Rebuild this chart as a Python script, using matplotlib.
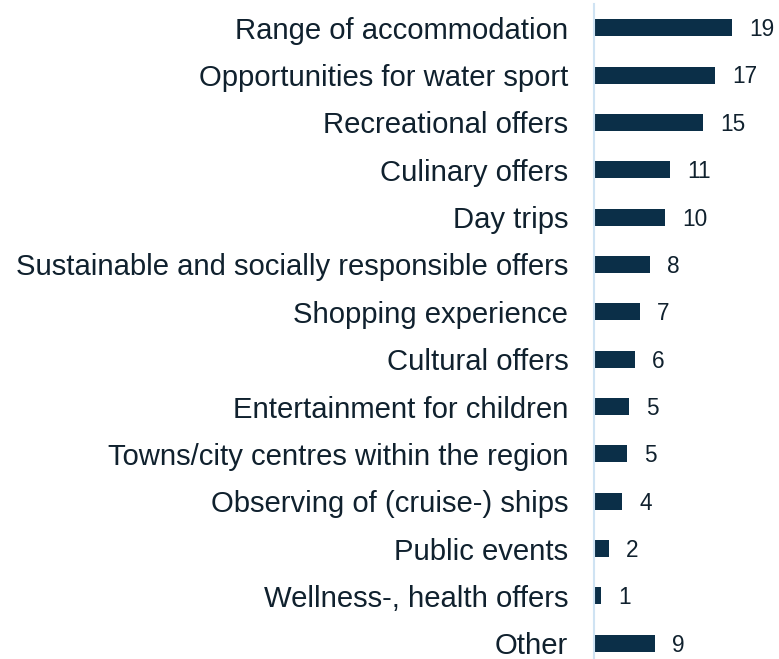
import matplotlib
matplotlib.use('Agg')
import matplotlib.pyplot as plt

plt.rcParams['font.family'] = ['Liberation Sans', 'DejaVu Sans']

categories = ['Range of accommodation', 'Opportunities for water sport',
              'Recreational offers', 'Culinary offers', 'Day trips',
              'Sustainable and socially responsible offers',
              'Shopping experience', 'Cultural offers',
              'Entertainment for children',
              'Towns/city centres within the region',
              'Observing of (cruise-) ships', 'Public events',
              'Wellness-, health offers', 'Other']
values = [19.0, 16.6, 15.0, 10.4, 9.8, 7.7, 6.3, 5.6, 4.8, 4.5, 3.8, 2.0, 1.0, 8.4]
labels = ['19', '17', '15', '11', '10', '8', '7', '6', '5', '5', '4', '2', '1', '9']

bar_color = '#0b2f48'
text_color = '#10212e'

fig = plt.figure(figsize=(7.79, 6.59), dpi=100)
ax = fig.add_axes([594 / 779, -8 / 659, 185 / 779, 663 / 659])

y = list(range(len(categories)))
ax.barh(y, values, height=0.36, color=bar_color)
ax.set_ylim(len(categories) - 0.5, -0.5)
ax.set_xlim(0, 185 / 7.26)

for yi, v, lab in zip(y, values, labels):
    ax.text(v + 2.4, yi + 0.04, lab, va='center', ha='left', fontsize=16.3,
            color=text_color)

ax.set_yticks(y)
ax.set_yticklabels(categories, fontsize=21.1, color=text_color)
ax.tick_params(axis='y', length=0, pad=18.5)
ax.set_xticks([])
for s in ['top', 'right', 'bottom']:
    ax.spines[s].set_visible(False)
ax.spines['left'].set_color('#cfe3f3')
ax.spines['left'].set_linewidth(1.5)

fig.savefig('out.png', dpi=100)
